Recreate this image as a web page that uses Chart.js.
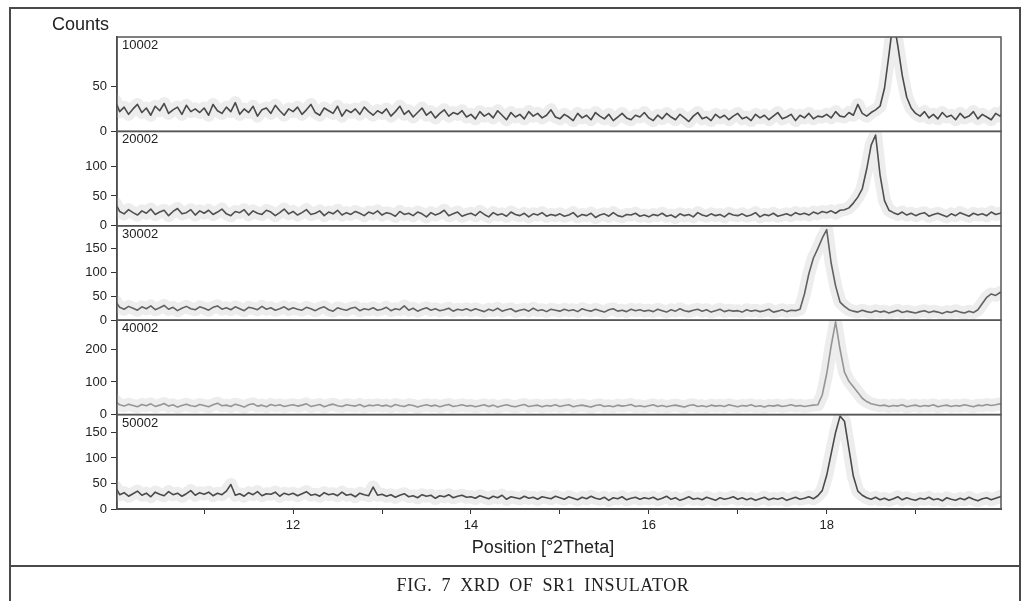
<!DOCTYPE html>
<html>
<head>
<meta charset="utf-8">
<title>XRD of SR1 insulator</title>
<script src="https://cdn.jsdelivr.net/npm/chart.js@4.4.1/dist/chart.umd.min.js"></script>
<style>
  html, body { margin: 0; padding: 0; background: #fff; }
  #wrap { position: relative; width: 1030px; height: 601px; overflow: hidden; }
  #frame { position: absolute; left: 9px; top: 7px; width: 1012px; height: 610px; border: 2px solid #4a4a4a; box-sizing: border-box; }
  #caption { position: absolute; left: 9px; top: 565px; width: 1012px; height: 36px; border-top: 2px solid #4a4a4a;
             box-sizing: border-box; padding-left: 56px; text-align: center; line-height: 36px;
             font-family: "Liberation Serif", "DejaVu Serif", serif; font-size: 18px; color: #222;
             letter-spacing: 0.6px; word-spacing: 4px; }
  #chart { position: absolute; left: 0; top: 0; }
</style>
</head>
<body>
<div id="wrap">
  <div id="frame"></div>
  <canvas id="chart" width="1030" height="601"></canvas>
  <div id="caption">FIG. 7 XRD OF SR1 INSULATOR</div>
</div>
<script>
// scan grid: 10.00 .. 20.00 deg 2Theta, 0.05 steps
const scanStart = 10.0;
const scanStep = 0.05;

const sampleNames = ['10002', '20002', '30002', '40002', '50002'];

// counts, one row per degree
const counts10002 = [
    34, 22, 27, 19, 25, 30, 21, 26, 18, 28, 23, 31, 20, 24, 27, 19, 29, 22, 25, 21,
    26, 18, 30, 23, 20, 27, 22, 32, 19, 25, 21, 28, 17, 24, 26, 20, 29, 23, 18, 25,
    22, 27, 19, 24, 30, 21, 18, 26, 23, 20, 28, 17, 24, 21, 25, 19, 27, 22, 18, 23,
    20, 25, 17, 22, 28, 19, 23, 16, 21, 26, 18, 22, 15, 20, 24, 17, 21, 19, 23, 16,
    19, 14, 22, 17, 20, 15, 23, 18, 13, 21, 16, 19, 14, 22, 17, 20, 15, 18, 24, 16,
    14, 19, 16, 12, 20, 15, 18, 13, 21, 17, 14, 19, 12, 16, 20, 15, 13, 18, 16, 21,
    15, 12, 18, 14, 20, 16, 13, 19, 15, 11, 17, 21, 14, 16, 12, 19, 15, 18, 13, 17,
    20, 14, 16, 12, 19, 15, 18, 13, 17, 21, 14, 16, 19, 12, 18, 15, 20, 14, 17, 16,
    19, 15, 22, 17, 16, 21, 18, 30, 20, 17, 21, 24, 28, 48, 85, 125, 95, 62, 38, 26,
    20, 17, 22, 15, 19, 14, 21, 16, 18, 13, 20, 15, 17, 22, 14, 19, 16, 13, 20, 17,
    24
];
const counts20002 = [
    38, 24, 20, 27, 22, 18, 25, 21, 28, 19, 23, 26, 17, 24, 29, 20, 22, 27, 18, 25,
    21, 26, 19, 23, 28, 20, 17, 24, 22, 27, 18, 25, 21, 19, 26, 23, 17, 22, 28, 20,
    24, 18, 22, 27, 19, 21, 25, 17, 23, 20, 26, 18, 22, 19, 24, 21, 17, 23, 20, 25,
    18, 22, 20, 16, 24, 19, 21, 17, 23, 20, 15, 22, 18, 21, 26, 17, 20, 23, 16, 19,
    21, 17, 24, 19, 15, 22, 18, 20, 16, 23, 19, 17, 21, 15, 20, 18, 22, 16, 19, 17,
    20, 16, 18, 22, 15, 19, 17, 21, 14, 18, 20, 16, 22, 17, 15, 19, 18, 21, 16, 18,
    15, 19, 17, 21, 16, 18, 14, 20, 17, 19, 15, 22, 18, 16, 20, 17, 19, 15, 21, 18,
    17, 20, 16, 18, 22, 15, 19, 17, 21, 16, 18, 20, 17, 22, 19, 21, 18, 23, 20, 24,
    22, 25, 21, 26, 27, 30, 38, 48, 62, 95, 135, 152, 85, 42, 26, 22, 19, 23, 18, 21,
    17, 20, 22, 16, 19, 21, 18, 15, 20, 17, 22, 19, 16, 21, 18, 20, 17, 23, 19, 21,
    24
];
const counts30002 = [
    40, 27, 23, 29, 25, 21, 28, 24, 30, 22, 26, 31, 23, 27, 20, 25, 29, 24, 22, 28,
    25, 21, 27, 30, 23, 26, 22, 28, 24, 20, 27, 25, 22, 29, 23, 26, 21, 24, 28, 22,
    26, 23, 21, 27, 24, 20, 25, 28, 22, 19, 26, 23, 21, 25, 27, 20, 24, 22, 26, 21,
    23, 27, 20, 24, 22, 30, 21, 25, 19, 23, 26, 21, 24, 20, 22, 25, 19, 23, 21, 24,
    20, 24, 21, 18, 23, 20, 25, 19, 22, 24, 18, 21, 23, 19, 25, 20, 22, 18, 23, 21,
    19, 23, 20, 22, 18, 24, 21, 19, 23, 20, 17, 22, 24, 19, 21, 18, 23, 20, 22, 19,
    21, 18, 23, 20, 17, 22, 19, 24, 20, 18, 21, 23, 19, 22, 17, 20, 23, 18, 21, 19,
    20, 17, 22, 19, 21, 18, 20, 23, 17, 19, 22, 18, 21, 20, 23, 55, 98, 130, 150, 172,
    190, 120, 72, 38, 29, 22, 19, 17, 21, 18, 16, 20, 17, 19, 15, 18, 21, 16, 19, 17,
    15, 18, 20, 16, 19, 17, 14, 18, 16, 20, 17, 15, 19, 16, 22, 35, 48, 55, 52, 58,
    57
];
const counts40002 = [
    42, 30, 26, 32, 28, 24, 31, 27, 33, 25, 29, 34, 26, 30, 23, 28, 32, 27, 25, 31,
    28, 24, 30, 35, 27, 29, 25, 32, 28, 23, 30, 33, 26, 29, 24, 31, 27, 30, 25, 28,
    30, 26, 29, 33, 25, 28, 31, 24, 29, 32, 27, 25, 30, 28, 26, 31, 24, 29, 27, 30,
    26, 29, 24, 31, 27, 25, 30, 28, 23, 27, 30, 26, 29, 24, 28, 31, 25, 27, 30, 26,
    28, 24, 27, 30, 25, 29, 23, 27, 30, 26, 24, 28, 31, 25, 27, 29, 24, 28, 26, 30,
    25, 28, 30, 24, 27, 29, 26, 23, 28, 30, 25, 27, 24, 29, 26, 28, 31, 25, 27, 24,
    27, 30, 25, 28, 24, 27, 29, 26, 23, 28, 30, 25, 27, 24, 29, 26, 28, 25, 30, 27,
    24, 28, 26, 30, 25, 27, 23, 28, 26, 29, 25, 27, 30, 26, 28, 25, 27, 29, 30, 60,
    125, 210, 284, 200, 130, 102, 85, 68, 50, 40, 33, 30, 27, 29, 25, 28, 26, 30, 24, 27,
    29, 25, 28, 26, 30, 24, 27, 29, 25, 28, 26, 30, 27, 24, 29, 27, 31, 28, 30, 33,
    36
];
const counts50002 = [
    44, 28, 32, 25, 30, 35, 27, 31, 24, 33, 29, 26, 34, 28, 31, 25, 30, 36, 27, 32,
    29, 33, 26, 31, 28, 35, 48, 27, 30, 25, 32, 28, 34, 26, 30, 29, 33, 25, 31, 28,
    31, 26, 30, 34, 27, 29, 25, 32, 28, 30, 26, 33, 27, 29, 24, 31, 28, 26, 43, 27,
    29, 25, 28, 23, 27, 30, 24, 26, 22, 28, 25, 27, 21, 26, 24, 28, 22, 25, 27, 23,
    24, 21, 26, 23, 20, 25, 22, 27, 19, 24, 22, 20, 25, 21, 23, 19, 24, 22, 20, 25,
    22, 19, 24, 21, 18, 23, 20, 25, 21, 19, 23, 17, 22, 20, 24, 18, 21, 23, 19, 22,
    20, 23, 18, 21, 25, 19, 22, 17, 20, 24, 19, 21, 18, 23, 20, 17, 22, 19, 21, 24,
    19, 22, 18, 21, 17, 20, 23, 18, 21, 19, 22, 17, 20, 23, 19, 21, 24, 20, 26, 36,
    66, 108, 150, 182, 172, 118, 64, 35, 27, 22, 19, 23, 18, 21, 17, 20, 24, 18, 22, 19,
    17, 21, 19, 23, 18, 20, 16, 22, 19, 17, 21, 18, 23, 19, 16, 20, 22, 18, 21, 24,
    28
];

const panelCounts = [counts10002, counts20002, counts30002, counts40002, counts50002];
const panelMax = [105, 158, 198, 289, 185];
const panelTicks = [[0, 50], [0, 50, 100], [0, 50, 100, 150], [0, 100, 200], [0, 50, 100, 150]];

const xMin = 10.02;
const xMax = 19.96;
const xTicks = [11, 12, 13, 14, 15, 16, 17, 18, 19];
const xLabelled = [12, 14, 16, 18];

const traceColors = ['#4a4a4a', '#505050', '#626262', '#959595', '#4a4a4a'];
const fontSans = '"Liberation Sans", Arial, sans-serif';

const positions = counts10002.map((_, i) => +(scanStart + i * scanStep).toFixed(2));

const datasets = [];
panelCounts.forEach((counts, p) => {
    const pts = counts.map((c, i) => ({ x: positions[i], y: c }));
    // faint grey band behind the trace
    datasets.push({
        data: pts, yAxisID: 'y' + p, order: 2, clip: 0,
        borderColor: '#ededed', borderWidth: 13, borderJoinStyle: 'round', borderCapStyle: 'round',
        pointRadius: 0, tension: 0
    });
    datasets.push({
        data: pts, yAxisID: 'y' + p, order: 1, clip: 0,
        borderColor: traceColors[p], borderWidth: 1.6, borderJoinStyle: 'round',
        pointRadius: 0, tension: 0
    });
});

const scales = {
    x: {
        type: 'linear', position: 'bottom', min: xMin, max: xMax,
        afterBuildTicks: (scale) => { scale.ticks = xTicks.map(v => ({ value: v })); },
        afterFit: (scale) => { scale.height = 50; },
        ticks: {
            autoSkip: false, maxRotation: 0, padding: 4, color: '#222',
            font: { family: fontSans, size: 13 },
            callback: (v) => xLabelled.includes(v) ? String(v) : ''
        },
        grid: { display: true, drawOnChartArea: false, drawTicks: true, tickLength: 5, color: '#333', lineWidth: 1 },
        border: { display: true, color: '#444', width: 2 }
    }
};
// bottom panel first: Chart.js puts the last stacked left axis on top
for (let p = panelCounts.length - 1; p >= 0; p--) {
    scales['y' + p] = {
        type: 'linear', position: 'left', stack: 'xrd', stackWeight: 1,
        min: 0, max: panelMax[p],
        afterBuildTicks: (scale) => { scale.ticks = panelTicks[p].map(v => ({ value: v })); },
        afterFit: (scale) => { scale.width = 60; },
        ticks: { autoSkip: false, padding: 4, color: '#222', font: { family: fontSans, size: 13 } },
        grid: { display: true, drawOnChartArea: false, drawTicks: true, tickLength: 6, color: '#333', lineWidth: 1 },
        border: { display: true, color: '#333', width: 1.5 }
    };
}

const panelFrames = {
    id: 'panelFrames',
    afterDraw(chart) {
        const { ctx, chartArea } = chart;
        ctx.save();
        ctx.strokeStyle = '#555';
        ctx.lineWidth = 1.5;
        sampleNames.forEach((name, p) => {
            const s = chart.scales['y' + p];
            ctx.strokeRect(chartArea.left, s.top, chartArea.right - chartArea.left, s.bottom - s.top);
            ctx.fillStyle = '#222';
            ctx.font = '13px ' + fontSans;
            ctx.textAlign = 'left';
            ctx.textBaseline = 'top';
            ctx.fillText(name, chartArea.left + 5, s.top + 2);
        });
        ctx.font = '18px ' + fontSans;
        ctx.textBaseline = 'middle';
        ctx.fillText('Counts', 52, 25);
        ctx.textAlign = 'center';
        ctx.fillText('Position [°2Theta]', 543, 548);
        ctx.restore();
    }
};

new Chart(document.getElementById('chart'), {
    type: 'line',
    data: { datasets },
    options: {
        responsive: false,
        animation: false,
        devicePixelRatio: 1,
        layout: { padding: { left: 57, right: 29, top: 37, bottom: 42 } },
        plugins: { legend: { display: false }, tooltip: { enabled: false } },
        scales
    },
    plugins: [panelFrames]
});
</script>
</body>
</html>
